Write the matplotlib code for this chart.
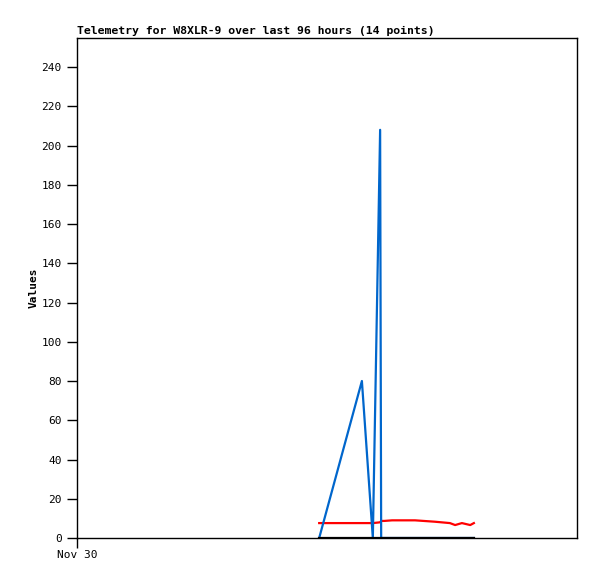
import numpy as np
import matplotlib
matplotlib.use("Agg")
import matplotlib.pyplot as plt

# DATA (hours since Nov 30 00:00)

hours = [46.5, 54.7, 56.8, 58.2, 58.4, 59.0, 60.5, 64.9, 68.7, 71.6, 72.6, 73.9, 75.5, 76.2]
blue_vals = [0, 80, 0, 208, 0, 0, 0, 0, 0, 0, 0, 0, 0, 0]
red_vals = [7.6, 7.6, 7.6, 8.0, 8.7, 8.7, 9.0, 9.0, 8.3, 7.6, 6.6, 7.6, 6.6, 7.6]
black_vals = [0] * 14

x_ticks = [0]
x_labels = ["Nov 30"]
y_ticks = list(range(0, 241, 20))

TITLE = "Telemetry for W8XLR-9 over last 96 hours (14 points)"

# PLOT

plt.rcParams['font.family'] = ['DejaVu Sans Mono']

fig = plt.figure(figsize=(5.97, 5.79), dpi=100)
ax = fig.add_axes([77/597, 41/579, 500/597, 500/579])

ax.plot(hours, red_vals, color="#ff0000", lw=1.6, zorder=2)
ax.plot(hours, blue_vals, color="#0066cc", lw=1.6, zorder=3)
ax.plot(hours, black_vals, color="black", lw=1.6, zorder=4)

ax.set_xlim(0, 96)
ax.set_ylim(0, 254.8)

ax.set_xticks(x_ticks)
ax.set_xticklabels(x_labels, fontsize=8)
ax.set_yticks(y_ticks)
ax.set_yticklabels([str(v) for v in y_ticks], fontsize=8)
ax.tick_params(direction="out", length=7, width=1, pad=4)
ax.tick_params(axis="x", pad=2)

for s in ax.spines.values():
    s.set_linewidth(1)

ax.set_ylabel("Values", fontsize=8, fontweight="bold", labelpad=2)
ax.set_title(TITLE, fontsize=8.25, fontweight="bold", loc="left", pad=3)

fig.savefig("out.png", dpi=100)
